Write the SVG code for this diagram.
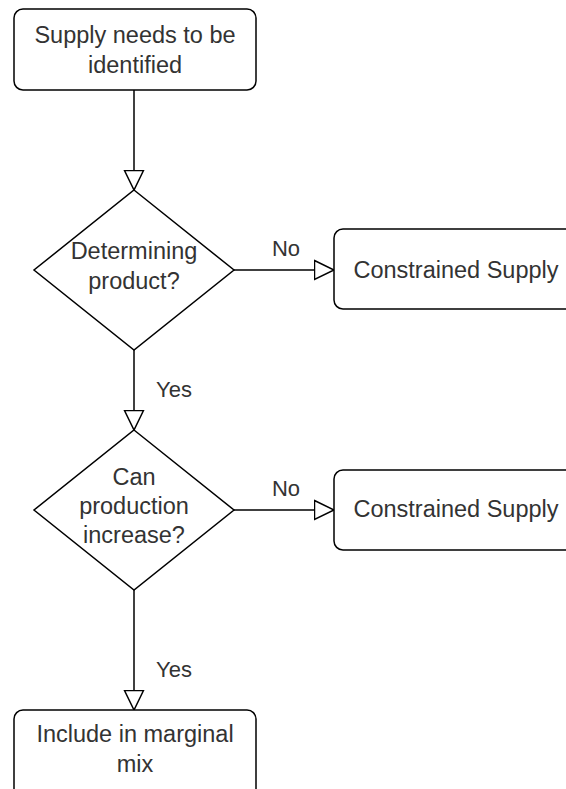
<svg xmlns="http://www.w3.org/2000/svg" width="566" height="789" viewBox="0 0 566 789">
<style>
.shape{fill:#ffffff;stroke:#000000;stroke-width:1.5}
.t{font-family:"Liberation Sans",Arial,sans-serif;font-size:23.5px;fill:#333333;text-anchor:middle}
.lbl{font-family:"Liberation Sans",Arial,sans-serif;font-size:22px;fill:#333333;text-anchor:middle}
.edge{fill:none;stroke:#000000;stroke-width:1.5}
</style>
<defs>
<marker id="open" markerUnits="userSpaceOnUse" viewBox="0 0 22 22" refX="20.5" refY="11" markerWidth="22" markerHeight="22" orient="auto">
<path d="M1,1.5 L20.5,11 L1,20.5 Z" fill="#ffffff" stroke="#000000" stroke-width="1.5"/>
</marker>
</defs>
<rect width="566" height="789" fill="#ffffff"/>
<g id="connectors">
<path class="edge" d="M134,90 V190" marker-end="url(#open)"/>
<path class="edge" d="M234,270 H334" marker-end="url(#open)"/>
<path class="edge" d="M134,350 V430" marker-end="url(#open)"/>
<path class="edge" d="M234,510 H334" marker-end="url(#open)"/>
<path class="edge" d="M134,590 V710" marker-end="url(#open)"/>
<text class="lbl" x="286" y="256">No</text>
<text class="lbl" x="174" y="397">Yes</text>
<text class="lbl" x="286" y="496">No</text>
<text class="lbl" x="174" y="677">Yes</text>
</g>
<g id="start">
<rect class="shape" x="14" y="9" width="242" height="81" rx="9"/>
<text class="t" x="135" y="43">Supply needs to be</text>
<text class="t" x="135" y="73">identified</text>
</g>
<g id="decision1">
<polygon class="shape" points="134,190 234,270 134,350 34,270"/>
<text class="t" x="134" y="259">Determining</text>
<text class="t" x="134" y="289">product?</text>
</g>
<g id="constrained1">
<rect class="shape" x="334" y="229" width="260" height="80" rx="9"/>
<text class="t" x="456" y="278">Constrained Supply</text>
</g>
<g id="decision2">
<polygon class="shape" points="134,430 234,510 134,590 34,510"/>
<text class="t" x="134" y="485">Can</text>
<text class="t" x="134" y="514">production</text>
<text class="t" x="134" y="543">increase?</text>
</g>
<g id="constrained2">
<rect class="shape" x="334" y="470" width="260" height="80" rx="9"/>
<text class="t" x="456" y="517">Constrained Supply</text>
</g>
<g id="marginal">
<rect class="shape" x="14" y="710" width="242" height="100" rx="9"/>
<text class="t" x="135" y="742">Include in marginal</text>
<text class="t" x="135" y="772">mix</text>
</g>
</svg>
